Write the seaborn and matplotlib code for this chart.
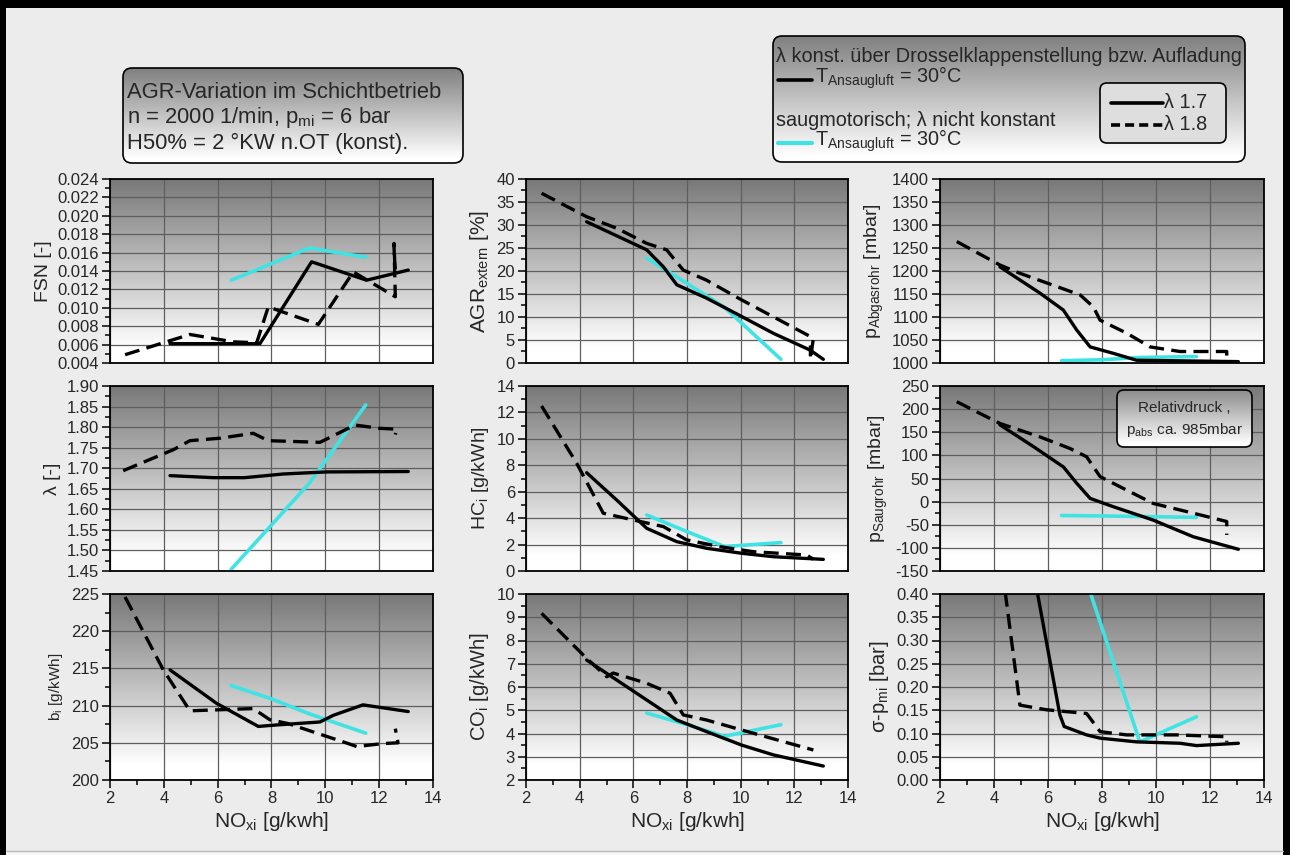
import numpy as np
import matplotlib
matplotlib.use("Agg")
import matplotlib.pyplot as plt
import seaborn as sns
from matplotlib.patches import FancyBboxPatch, Rectangle
from matplotlib.lines import Line2D
from matplotlib.ticker import MultipleLocator, FormatStrFormatter

# ---------------- data: NOx_i [g/kWh] vs. engine quantities ----------------
# series: l17 = lambda 1.7 (solid), l18 = lambda 1.8 (dashed), sm = naturally aspirated (cyan)
sm_x = [6.5, 8.0, 9.4, 11.5]

fsn_x17 = [4.23, 7.57, 9.49, 11.53, 13.08]
fsn_y17 = [0.0061, 0.0061, 0.0150, 0.0130, 0.0141]
fsn_x18 = [2.56, 4.2, 4.97, 6.58, 7.45, 7.88, 8.56, 9.74, 11.04, 12.6, 12.55, 12.6]
fsn_y18 = [0.0049, 0.0064, 0.0071, 0.0063, 0.0062, 0.0101, 0.0094, 0.0082, 0.0139, 0.0112, 0.0170, 0.0135]
fsn_ysm = [0.0130, 0.0148, 0.0165, 0.0155]

lam_x17 = [4.23, 5.84, 7.0, 8.44, 10.05, 13.08]
lam_y17 = [1.682, 1.677, 1.677, 1.686, 1.691, 1.692]
lam_x18 = [2.49, 4.35, 4.97, 6.09, 7.32, 7.88, 9.80, 11.10, 12.03, 12.65, 12.6]
lam_y18 = [1.694, 1.745, 1.767, 1.773, 1.785, 1.767, 1.763, 1.805, 1.797, 1.795, 1.782]
lam_ysm = [1.454, 1.562, 1.663, 1.854]

bi_x17 = [4.23, 5.96, 7.51, 8.2, 9.80, 10.3, 11.4, 13.08]
bi_y17 = [214.8, 210.3, 207.2, 207.4, 207.8, 208.7, 210.1, 209.2]
bi_x18 = [2.56, 3.98, 4.97, 7.32, 7.94, 8.6, 10.85, 11.16, 12.15, 12.7, 12.6]
bi_y18 = [224.6, 214.8, 209.3, 209.6, 208.1, 207.6, 204.9, 204.5, 204.9, 205.0, 206.9]
bi_ysm = [212.7, 210.9, 208.9, 206.3]

agr_x17 = [4.26, 6.5, 7.12, 7.62, 8.73, 10.04, 11.22, 12.59, 13.08]
agr_y17 = [30.7, 24.6, 20.9, 17.0, 14.1, 10.1, 6.45, 2.8, 0.8]
agr_x18 = [2.58, 4.26, 5.38, 6.5, 7.24, 7.86, 8.73, 10.04, 12.71, 12.6, 12.6]
agr_y18 = [36.9, 31.8, 29.3, 26.0, 24.6, 20.2, 18.0, 13.7, 5.4, 0.8, 3.8]
agr_ysm = [22.8, 17.3, 12.1, 0.8]

hc_x17 = [4.26, 5.38, 6.5, 7.62, 8.73, 10.04, 11.22, 13.08]
hc_y17 = [7.44, 5.37, 3.23, 2.22, 1.72, 1.34, 1.08, 0.88]
hc_x18 = [2.58, 3.89, 4.88, 6.0, 7.12, 7.99, 9.23, 10.47, 12.46, 12.71]
hc_y18 = [12.49, 8.15, 4.37, 3.86, 3.36, 2.35, 1.84, 1.46, 1.21, 0.88]
hc_ysm = [4.24, 2.98, 1.85, 2.15]

co_x17 = [4.26, 5.38, 6.5, 7.62, 8.73, 10.04, 11.22, 13.08]
co_y17 = [7.16, 6.3, 5.44, 4.58, 4.08, 3.5, 3.08, 2.6]
co_x18 = [2.58, 4.26, 5.01, 5.25, 6.5, 7.37, 7.86, 8.73, 10.04, 12.71]
co_y18 = [9.17, 7.23, 6.44, 6.6, 6.16, 5.73, 4.8, 4.58, 4.15, 3.29]
co_ysm = [4.88, 4.38, 3.88, 4.38]

pa_x17 = [4.22, 5.70, 6.57, 7.06, 7.56, 8.42, 9.28, 13.05]
pa_y17 = [1209, 1152, 1115, 1072, 1035, 1021, 1006, 1003]
pa_x18 = [2.62, 4.22, 4.96, 7.19, 7.68, 7.93, 8.91, 9.78, 10.89, 12.62, 12.62]
pa_y18 = [1264, 1213, 1195, 1148, 1122, 1093, 1065, 1035, 1025, 1025, 1012]
pa_ysm = [1005, 1007, 1012, 1014]

ps_x17 = [4.22, 5.46, 6.57, 7.06, 7.56, 8.42, 9.9, 11.38, 13.05]
ps_y17 = [166, 119, 75, 40, 7, -11, -40, -76, -103]
ps_x18 = [2.62, 4.22, 5.7, 6.81, 7.43, 7.93, 8.91, 9.9, 11.38, 12.62, 12.62]
ps_y18 = [216, 169, 140, 115, 97, 54, 25, -4, -25, -43, -72]
ps_ysm = [-30, -31, -32, -34]

sig_x17 = [4.22, 6.44, 6.6, 7.43, 7.93, 9.28, 10.89, 11.5, 13.05]
sig_y17 = [0.84, 0.14, 0.115, 0.097, 0.090, 0.082, 0.079, 0.074, 0.079]
sig_x18 = [4.2, 4.96, 5.95, 6.69, 7.43, 7.93, 8.91, 10.77, 12.62, 12.62]
sig_y18 = [0.50, 0.161, 0.151, 0.147, 0.143, 0.104, 0.097, 0.097, 0.093, 0.082]
sig_ysm = [0.59, 0.327, 0.082, 0.136]

x_ticks = [2, 4, 6, 8, 10, 12, 14]

# ---------------- style ----------------
sns.set_style("white")
plt.rcParams["font.family"] = ["Liberation Sans", "DejaVu Sans"]
plt.rcParams["mathtext.fontset"] = "custom"
plt.rcParams["mathtext.rm"] = "Liberation Sans"
plt.rcParams["mathtext.it"] = "Liberation Sans"
plt.rcParams["mathtext.bf"] = "Liberation Sans:bold"

W, H = 1290, 855
BG = "#ececec"
CYAN = "#3fe3e3"
fig = plt.figure(figsize=(W / 100, H / 100), dpi=100, facecolor=BG)


def gray_gradient(top=0.47, white_frac=0.08, n=256):
    """Vertical gradient image: dark gray at the top row, white at the bottom."""
    t = np.linspace(1, 0, n)  # row 0 = top
    v = np.where(t < white_frac, 1.0, 1.0 - (t - white_frac) / (1 - white_frac) * (1 - top))
    v = v.reshape(n, 1)
    return np.dstack([v, v, v])


cols = [(110, 433), (526, 848), (940, 1264)]
rows = [(179, 363), (386, 571), (594, 780)]

panels = [
    # (row, col, ylabel, ymin, ymax, major, minor, fmt, x17, y17, x18, y18, ysm, label size)
    (0, 0, "FSN [-]", 0.004, 0.024, 0.002, 0.001, "%.3f", fsn_x17, fsn_y17, fsn_x18, fsn_y18, fsn_ysm, 14),
    (1, 0, "λ [-]", 1.45, 1.90, 0.05, 0.025, "%.2f", lam_x17, lam_y17, lam_x18, lam_y18, lam_ysm, 14),
    (2, 0, r"b$_{\mathrm{i}}$ [g/kWh]", 200, 225, 5, 2.5, "%d", bi_x17, bi_y17, bi_x18, bi_y18, bi_ysm, 11),
    (0, 1, r"AGR$_{\mathrm{extern}}$ [%]", 0, 40, 5, 2.5, "%d", agr_x17, agr_y17, agr_x18, agr_y18, agr_ysm, 15),
    (1, 1, r"HC$_{\mathrm{i}}$ [g/kWh]", 0, 14, 2, 1, "%d", hc_x17, hc_y17, hc_x18, hc_y18, hc_ysm, 14),
    (2, 1, r"CO$_{\mathrm{i}}$ [g/kWh]", 2, 10, 1, 0.5, "%d", co_x17, co_y17, co_x18, co_y18, co_ysm, 14.5),
    (0, 2, r"p$_{\mathrm{Abgasrohr}}$ [mbar]", 1000, 1400, 50, 25, "%d", pa_x17, pa_y17, pa_x18, pa_y18, pa_ysm, 14),
    (1, 2, r"p$_{\mathrm{Saugrohr}}$ [mbar]", -150, 250, 50, 25, "%d", ps_x17, ps_y17, ps_x18, ps_y18, ps_ysm, 14),
    (2, 2, r"σ-p$_{\mathrm{mi}}$ [bar]", 0, 0.40, 0.05, 0.025, "%.2f", sig_x17, sig_y17, sig_x18, sig_y18, sig_ysm, 14.5),
]

grad = gray_gradient()
for (r, c, ylab, y0, y1, maj, mnr, fmt, x17, y17, x18, y18, ysm, lsz) in panels:
    (xl, xr), (yt, yb) = cols[c], rows[r]
    ax = fig.add_axes([xl / W, 1 - yb / H, (xr - xl) / W, (yb - yt) / H])
    ax.imshow(grad, extent=[0, 1, 0, 1], transform=ax.transAxes, aspect="auto",
              interpolation="bilinear", zorder=0)
    sns.lineplot(x=sm_x, y=ysm, ax=ax, sort=False, estimator=None, color=CYAN,
                 linewidth=2.6, zorder=3, legend=False)
    sns.lineplot(x=x17, y=y17, ax=ax, sort=False, estimator=None, color="black",
                 linewidth=2.4, zorder=4, legend=False)
    sns.lineplot(x=x18, y=y18, ax=ax, sort=False, estimator=None, color="black",
                 linewidth=2.4, linestyle=(0, (4.5, 2.2)), zorder=4, legend=False)
    ax.set_xlim(2, 14)
    ax.set_ylim(y0, y1)
    ax.xaxis.set_major_locator(MultipleLocator(2))
    ax.xaxis.set_minor_locator(MultipleLocator(1))
    ax.yaxis.set_major_locator(MultipleLocator(maj))
    ax.yaxis.set_minor_locator(MultipleLocator(mnr))
    ax.yaxis.set_major_formatter(FormatStrFormatter(fmt))
    ax.grid(True, which="major", color="#5e5e5e", linewidth=0.9, zorder=1)
    ax.set_axisbelow(False)
    for sp in ax.spines.values():
        sp.set_color("black")
        sp.set_linewidth(1.3)
        sp.set_zorder(6)
    ax.tick_params(which="both", direction="out", color="black", labelsize=12, width=1.1, pad=2)
    ax.tick_params(which="major", length=6)
    ax.tick_params(which="minor", length=3.5)
    ax.tick_params(axis="y", which="both", left=True)
    ax.set_ylabel(ylab, fontsize=lsz, labelpad=4)
    if r == 2:
        ax.tick_params(axis="x", which="both", bottom=True)
        ax.set_xticks(x_ticks)
        ax.set_xlabel(r"NO$_{\mathrm{xi}}$ [g/kwh]", fontsize=15, labelpad=3)
    else:
        ax.tick_params(axis="x", which="both", bottom=False, labelbottom=False)
    ax.set_xlim(2, 14)
    ax.set_ylim(y0, y1)

# ---------------- header boxes, frame ----------------
ov = fig.add_axes([0, 0, 1, 1], zorder=20)
ov.set_xlim(0, W)
ov.set_ylim(H, 0)
ov.axis("off")


def grad_box(x0, y0, x1, y1, rsize=9, top=0.50):
    im = ov.imshow(gray_gradient(top=top, white_frac=0.05), extent=[x0, x1, y1, y0],
                   aspect="auto", interpolation="bilinear", zorder=1)
    clip = FancyBboxPatch((x0, y0), x1 - x0, y1 - y0,
                          boxstyle=f"round,pad=0,rounding_size={rsize}",
                          transform=ov.transData, fc="none", ec="none")
    ov.add_patch(clip)
    im.set_clip_path(clip)
    ov.add_patch(FancyBboxPatch((x0, y0), x1 - x0, y1 - y0,
                                boxstyle=f"round,pad=0,rounding_size={rsize}",
                                fc="none", ec="black", lw=1.2, zorder=2))


# left info box
grad_box(123, 68, 463, 163)
ov.text(127, 93, "AGR-Variation im Schichtbetrieb", fontsize=15.8, va="center", ha="left", zorder=3)
ov.text(127, 118, r"n = 2000 1/min, p$_{\mathrm{mi}}$ = 6 bar", fontsize=15.8, va="center", ha="left", zorder=3)
ov.text(127, 143, "H50% = 2 °KW n.OT (konst).", fontsize=15.8, va="center", ha="left", zorder=3)

# right legend box
grad_box(773, 36, 1245, 162)
ov.text(776, 57, "λ konst. über Drosselklappenstellung bzw. Aufladung", fontsize=14.3,
        va="center", ha="left", zorder=3)
ov.add_line(Line2D([778, 812], [80, 80], color="black", lw=2.6, zorder=3))
ov.text(815, 78, r"T$_{\mathrm{Ansaugluft}}$ = 30°C", fontsize=14.3, va="center", ha="left", zorder=3)
ov.text(776, 120, "saugmotorisch; λ nicht konstant", fontsize=14.3, va="center", ha="left", zorder=3)
ov.add_line(Line2D([778, 812], [143, 143], color=CYAN, lw=3, zorder=3))
ov.text(815, 141, r"T$_{\mathrm{Ansaugluft}}$ = 30°C", fontsize=14.3, va="center", ha="left", zorder=3)

ov.add_patch(FancyBboxPatch((1100, 83), 126, 60, boxstyle="round,pad=0,rounding_size=7",
                            fc="#dedede", ec="black", lw=1.2, zorder=3))
ov.add_line(Line2D([1111, 1163], [103, 103], color="black", lw=2.6, zorder=4))
ov.text(1164, 102, "λ 1.7", fontsize=14.3, va="center", ha="left", zorder=4)
ov.add_line(Line2D([1111, 1163], [125, 125], color="black", lw=2.6, linestyle=(0, (2.5, 1.4)), zorder=4))
ov.text(1164, 124, "λ 1.8", fontsize=14.3, va="center", ha="left", zorder=4)

# note box inside intake pressure panel
grad_box(1117, 390, 1252, 447, rsize=7, top=0.55)
ov.text(1184.5, 408, "Relativdruck ,", fontsize=11, va="center", ha="center", zorder=3)
ov.text(1184.5, 430, r"p$_{\mathrm{abs}}$ ca. 985mbar", fontsize=11, va="center", ha="center", zorder=3)

# window frame
ov.add_patch(Rectangle((0, 0), W, 8, fc="black", ec="none", zorder=5))
ov.add_patch(Rectangle((0, 0), 6, H, fc="black", ec="none", zorder=5))
ov.add_patch(Rectangle((1283, 0), 7, H, fc="black", ec="none", zorder=5))
ov.add_patch(Rectangle((6, 851), 1277, 4, fc="#f8f8f8", ec="none", zorder=5))
ov.add_line(Line2D([6, 1283], [851, 851], color="#b8b8b8", lw=1, zorder=6))
ov.set_xlim(0, W)
ov.set_ylim(H, 0)

fig.savefig("out.png", dpi=100, facecolor=BG)
